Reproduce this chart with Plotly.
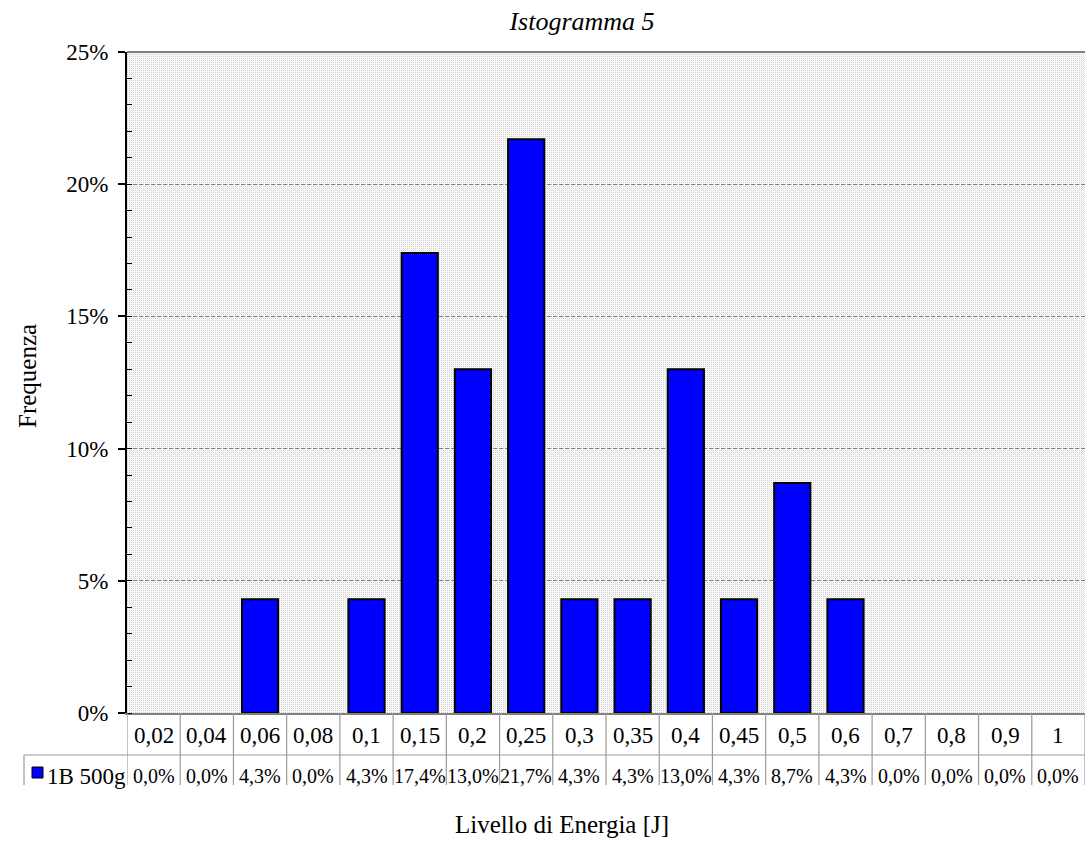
import base64
import struct
import zlib

import numpy as np
import plotly.graph_objects as go

# Energy bins [J] and relative frequency (%) for series "1B 500g"
categories = ["0,02", "0,04", "0,06", "0,08", "0,1", "0,15", "0,2", "0,25", "0,3",
              "0,35", "0,4", "0,45", "0,5", "0,6", "0,7", "0,8", "0,9", "1"]
freq_pct = [0.0, 0.0, 4.3, 0.0, 4.3, 17.4, 13.0, 21.7, 4.3,
            4.3, 13.0, 4.3, 8.7, 4.3, 0.0, 0.0, 0.0, 0.0]
series_name = "1B 500g"
y_ticks = [0, 5, 10, 15, 20, 25]

FONT = "Liberation Serif"
W, H = 1088, 844
ML, MR, MT, MB = 127, 3, 52, 131
PW, PH = W - ML - MR, H - MT - MB


def py(pixel_y):
    """Convert a page pixel row to paper coordinates."""
    return (MT + PH - pixel_y) / PH


def px(pixel_x):
    return (pixel_x - ML) / PW


def png_uri(arr):
    h, w = arr.shape
    raw = b"".join(b"\x00" + arr[r].tobytes() for r in range(h))

    def chunk(tag, data):
        c = struct.pack(">I", len(data)) + tag + data
        return c + struct.pack(">I", zlib.crc32(tag + data) & 0xFFFFFFFF)

    ihdr = struct.pack(">IIBBBBB", w, h, 8, 0, 0, 0, 0)
    png = (b"\x89PNG\r\n\x1a\n" + chunk(b"IHDR", ihdr)
           + chunk(b"IDAT", zlib.compress(raw, 9)) + chunk(b"IEND", b""))
    return "data:image/png;base64," + base64.b64encode(png).decode()


# dotted fill of the plot area
yy, xx = np.mgrid[0:PH, 0:PW]
tex = np.full((PH, PW), 255, dtype=np.uint8)
tex[(yy % 2 == 0) & (xx % 2 == 0)] = 205
tex[(yy % 2 == 1) & (xx % 2 == 1)] = 238

fig = go.Figure()
fig.add_trace(go.Bar(
    x=list(range(len(categories))), y=freq_pct, name=series_name,
    marker=dict(color="#0000FF",
                line=dict(color="black", width=[2 if v > 0 else 0 for v in freq_pct])),
    showlegend=False, hoverinfo="skip",
))

n = len(categories)
grid_col = "#808080"
table_col = "#9a9a9a"
shapes = []
# top border of plot area
shapes.append(dict(type="line", xref="paper", yref="paper", x0=0, x1=1, y0=1, y1=1,
                   line=dict(color=grid_col, width=2)))
# data table: vertical cell borders
row_sep = py(755)
table_bot = py(785)
for i in range(n + 1):
    shapes.append(dict(type="line", xref="x", yref="paper", x0=i - 0.5, x1=i - 0.5,
                       y0=0, y1=table_bot, line=dict(color=table_col, width=1.2)))
shapes.append(dict(type="line", xref="paper", yref="paper", x0=px(24), x1=1,
                   y0=row_sep, y1=row_sep, line=dict(color=table_col, width=1.2)))
shapes.append(dict(type="line", xref="paper", yref="paper", x0=px(24), x1=px(24),
                   y0=row_sep, y1=table_bot, line=dict(color=table_col, width=1.2)))
# legend key
shapes.append(dict(type="rect", xref="paper", yref="paper", x0=px(32), x1=px(43),
                   y0=py(778), y1=py(767), fillcolor="#0000FF",
                   line=dict(color="black", width=1)))

txt = dict(family=FONT, size=23, color="black")
val_txt = dict(family=FONT, size=20, color="black")
ann = []
for i, (c, v) in enumerate(zip(categories, freq_pct)):
    ann.append(dict(x=i, y=py(735), xref="x", yref="paper", text=c, showarrow=False,
                    font=txt, xanchor="center", yanchor="middle"))
    ann.append(dict(x=i, y=py(776), xref="x", yref="paper",
                    text=f"{v:.1f}".replace(".", ",") + "%", showarrow=False,
                    font=val_txt, xanchor="center", yanchor="middle"))
ann.append(dict(x=px(45), y=py(776), xref="paper", yref="paper", text=series_name,
                showarrow=False, xanchor="left", yanchor="middle", font=txt))
ann.append(dict(x=px(562), y=py(824), xref="paper", yref="paper",
                text="Livello di Energia [J]", showarrow=False,
                xanchor="center", yanchor="middle",
                font=dict(family=FONT, size=25, color="black")))
ann.append(dict(x=px(27), y=py(376), xref="paper", yref="paper", text="Frequenza",
                textangle=-90, showarrow=False, xanchor="center", yanchor="middle",
                font=dict(family=FONT, size=25, color="black")))

fig.update_layout(
    width=W, height=H, autosize=False,
    margin=dict(l=ML, r=MR, t=MT, b=MB, pad=0),
    paper_bgcolor="white", plot_bgcolor="white",
    bargap=0.32,
    title=dict(text="Istogramma 5", xref="paper", x=px(582), xanchor="center",
               yref="container", y=1 - 21 / H, yanchor="middle",
               font=dict(family=FONT, size=26, color="black", style="italic")),
    xaxis=dict(type="linear", range=[-0.5, n - 0.5], showticklabels=False, ticks="",
               showgrid=False, zeroline=False, showline=True, linecolor=grid_col,
               linewidth=1.5, fixedrange=True),
    yaxis=dict(range=[0, 25], tickvals=y_ticks, ticktext=[f"{t}%" for t in y_ticks],
               ticks="outside", ticklen=7, tickwidth=1.5, tickcolor="black",
               ticklabelstandoff=5,
               minor=dict(ticks="inside", dtick=1, ticklen=5, tickwidth=1.2,
                          tickcolor="black", showgrid=False),
               showline=True, linecolor="black", linewidth=2,
               showgrid=True, gridcolor=grid_col, gridwidth=1, griddash="4px,2px",
               zeroline=False, tickfont=txt, fixedrange=True),
    images=[dict(source=png_uri(tex), xref="paper", yref="paper", x=0, y=1,
                 sizex=1, sizey=1, sizing="stretch", xanchor="left", yanchor="top",
                 layer="below")],
    shapes=shapes,
    annotations=ann,
)

fig.write_html("out.html")
